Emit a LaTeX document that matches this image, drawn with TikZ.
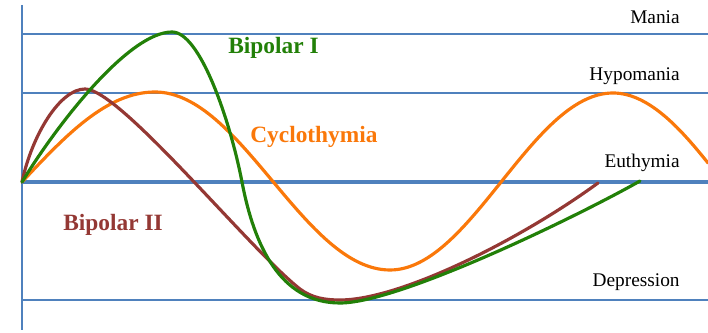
\documentclass[tikz,border=0pt]{standalone}
\usepackage{fontspec}
\setmainfont{Liberation Serif}
\usetikzlibrary{positioning}
\definecolor{axisblue}{RGB}{79,129,189}
\definecolor{bpgreen}{RGB}{34,128,8}
\definecolor{cyorange}{RGB}{250,120,10}
\definecolor{bpbrown}{RGB}{148,56,52}
\tikzset{
	level/.style={draw=axisblue, line width=1.2pt},
	mood/.style={line width=1.8pt, line cap=round},
	levellabel/.style={anchor=east, inner sep=0pt, font=\fontsize{11}{13}\selectfont},
	curvelabel/.style={anchor=west, inner sep=0pt, font=\fontsize{13.3}{15}\selectfont\bfseries}
}

\begin{document}
\begin{tikzpicture}[x=0.02cm, y=-0.02cm]
			%%%%% START %%%%%
			\useasboundingbox (0, 0) rectangle (708, 333);
			
			% mood levels
			\draw[level] (22, 34) -- (708, 34);
			\draw[level] (22, 93) -- (708, 93);
			\draw[level, line width=2.3pt] (22, 182) -- (708, 182);
			\draw[level] (22, 300) -- (708, 300);
			\draw[level] (22, 5) -- (22, 330);
			
			\node[levellabel] (mania) at (680, 17) {Mania};
			\node[levellabel] (hypomania) at (680, 76) {Hypomania};
			\node[levellabel] (euthymia) at (680, 163) {Euthymia};
			\node[levellabel] (depression) at (680, 282) {Depression};
			
			% cyclothymia
			\draw[mood, cyorange] (22, 182) .. controls (66, 135) and (107, 92) .. (155, 92)
				.. controls (241, 92) and (304, 270) .. (390, 270)
				.. controls (471, 270) and (532, 93) .. (613, 93)
				.. controls (650, 93) and (683, 132) .. (708, 163);
			
			% bipolar II
			\draw[mood, bpbrown] (22, 182) .. controls (32, 135) and (60, 89) .. (85, 89)
				.. controls (120, 89) and (250, 250) .. (300, 289)
				.. controls (312, 298) and (325, 300) .. (340, 300)
				.. controls (400, 300) and (520, 240) .. (598, 183);
			
			% bipolar I
			\draw[mood, bpgreen] (22, 182) .. controls (60, 120) and (130, 32) .. (172, 32)
				.. controls (200, 32) and (230, 120) .. (242, 182)
				.. controls (254, 245) and (280, 303) .. (340, 303)
				.. controls (400, 303) and (580, 215) .. (640, 181);
			
			\node[curvelabel, text=bpgreen] (bipolarone) at (228, 48) {Bipolar I};
			\node[curvelabel, text=cyorange] (cyclo) at (250, 137) {Cyclothymia};
			\node[curvelabel, text=bpbrown] (bipolartwo) at (63, 225) {Bipolar II};
			%%%%% END %%%%%
		\end{tikzpicture}
\end{document}
